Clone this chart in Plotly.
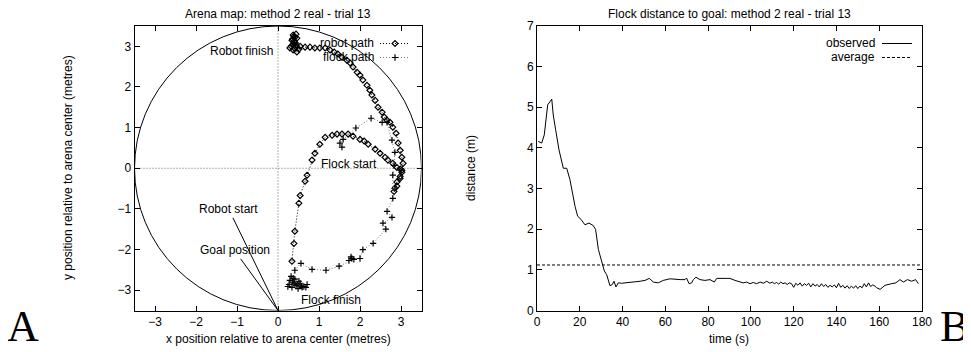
import plotly.graph_objects as go

# ---------------- data ----------------
ARENA_RADIUS = 3.5
AVERAGE_DISTANCE = 1.12

robot_x = [0.34, 0.39, 0.41, 0.51, 0.54, 0.66, 0.71, 0.83, 0.90, 1.02, 1.15, 1.32, 1.44, 1.56, 1.71,
           1.83, 2.00, 2.10, 2.20, 2.37, 2.49, 2.61, 2.68, 2.80, 2.90, 2.98, 3.02, 2.98, 2.90, 2.85,
           2.83, 2.90, 2.98, 3.02, 3.05, 3.02, 2.98, 2.93, 2.88, 2.80, 2.73, 2.66, 2.59, 2.54, 2.44,
           2.37, 2.29, 2.24, 2.17, 2.07, 2.00, 1.93, 1.83, 1.76, 1.68, 1.56, 1.46, 1.37, 1.27, 1.15,
           1.02, 0.90, 0.78, 0.66, 0.54, 0.44, 0.37, 0.34, 0.39, 0.44, 0.46, 0.41, 0.32, 0.29, 0.37,
           0.46, 0.51, 0.44, 0.39, 0.41, 0.37, 0.42, 0.36, 0.40]
robot_y = [-2.29, -1.85, -1.55, -0.86, -0.67, -0.32, -0.17, 0.20, 0.37, 0.59, 0.76, 0.81, 0.84, 0.84, 0.84,
           0.79, 0.71, 0.67, 0.59, 0.47, 0.37, 0.27, 0.20, 0.12, 0.02, -0.02, -0.10, -0.20, -0.34, -0.49,
           -0.57, -0.44, -0.25, -0.05, 0.12, 0.27, 0.44, 0.62, 0.86, 1.01, 1.13, 1.18, 1.26, 1.38, 1.50,
           1.67, 1.80, 1.92, 2.04, 2.17, 2.29, 2.36, 2.49, 2.59, 2.66, 2.73, 2.81, 2.86, 2.91, 2.96,
           2.96, 2.96, 2.98, 2.98, 3.00, 3.03, 3.05, 3.15, 3.25, 3.30, 3.20, 3.10, 3.00, 2.96, 2.91,
           2.86, 2.93, 2.98, 3.12, 3.22, 3.28, 3.08, 3.18, 2.95]

flock_x = [1.56, 1.51, 1.59, 1.90, 2.27, 2.54, 2.66, 2.78, 2.85, 2.83, 2.80, 2.80, 2.66, 2.78, 2.56,
           2.63, 2.32, 2.07, 2.00, 1.80, 1.73, 1.78, 1.85, 1.49, 1.17, 0.83, 0.56, 0.41, 0.37,
           0.29, 0.27, 0.34, 0.44, 0.54, 0.63, 0.71, 0.59, 0.49, 0.39, 0.32, 0.41, 0.51, 0.68, 0.24,
           0.36, 0.47, 0.57]
flock_y = [0.52, 0.62, 0.71, 0.99, 1.23, 1.13, 1.13, 0.69, 0.39, 0.07, -0.17, -0.74, -1.06, -1.21, -1.35,
           -1.50, -1.85, -2.00, -2.22, -2.22, -2.27, -2.18, -2.24, -2.41, -2.51, -2.49, -2.34, -2.51, -2.71,
           -2.76, -2.86, -2.93, -2.88, -2.83, -2.91, -2.86, -2.93, -2.96, -2.83, -2.66, -2.73, -2.78, -2.93, -2.91,
           -2.80, -2.85, -2.90]

time_s = [0.6, 2.2, 3.4, 5.0, 6.9, 7.6, 8.7, 10.3, 12.3, 13.9, 15.4, 16.5, 17.8, 19.0, 20.6, 22.4,
          24.3, 26.3, 27.4, 28.7, 30.2, 31.5, 32.6, 34.1, 35.2, 36.0, 36.9, 38.0, 39.5, 42.0, 45.8,
          48.2, 50.5, 52.5, 54.4, 56.7, 59.0, 62.2, 66.9, 69.2, 69.9, 71.1, 72.3, 73.1, 74.3, 76.2,
          78.5, 80.9, 82.9, 84.0, 88.7, 90.2, 92.6, 94.9, 96.4, 98.0, 99.6, 101.1, 102.7, 104.3,
          105.8, 107.4, 108.9, 110, 111, 112, 113, 114, 115, 116, 117, 118, 119, 120, 121, 122, 123,
          124, 125, 126, 127, 128, 129, 130, 131, 132, 133, 134, 135, 136, 137, 138, 139, 140, 141,
          142, 143, 144, 145, 146, 147, 148, 149, 150, 151, 152, 153, 154, 155, 156, 157, 158, 158.8,
          160.4, 162.7, 165.8, 167.8, 169.7, 171.3, 173.2, 175.2, 177.0, 178.3]
distance_m = [4.16, 4.12, 4.32, 5.06, 5.20, 4.81, 4.45, 3.95, 3.50, 3.50, 3.22, 2.89, 2.56, 2.32, 2.24, 2.11,
              2.15, 2.09, 1.99, 1.50, 1.19, 0.97, 0.88, 0.61, 0.64, 0.72, 0.58, 0.68, 0.67, 0.68, 0.70,
              0.72, 0.74, 0.79, 0.70, 0.68, 0.74, 0.78, 0.76, 0.76, 0.80, 0.66, 0.68, 0.76, 0.82, 0.76,
              0.74, 0.76, 0.70, 0.79, 0.79, 0.79, 0.74, 0.70, 0.68, 0.70, 0.66, 0.69, 0.66, 0.70,
              0.67, 0.72, 0.67, 0.70, 0.66, 0.69, 0.65, 0.70, 0.66, 0.68, 0.64, 0.68, 0.66, 0.57, 0.67, 0.62, 0.68,
              0.60, 0.66, 0.62, 0.67, 0.58, 0.66, 0.60, 0.64, 0.58, 0.66, 0.59, 0.64, 0.57, 0.62, 0.58, 0.63, 0.56, 0.67,
              0.57, 0.62, 0.55, 0.61, 0.54, 0.60, 0.55, 0.61, 0.54, 0.60, 0.56, 0.66, 0.58, 0.68, 0.59, 0.63, 0.60, 0.56,
              0.52, 0.62, 0.66, 0.68, 0.76, 0.70, 0.76, 0.72, 0.76, 0.66, 0.74]

MAP_TICKS = [-3, -2, -1, 0, 1, 2, 3]
TIME_TICKS = [0, 20, 40, 60, 80, 100, 120, 140, 160, 180]
DIST_TICKS = [0, 1, 2, 3, 4, 5, 6, 7]

# ---------------- figure ----------------
PAGE_OFFSET = 8          # default body margin of the html page
W, H = 971 - PAGE_OFFSET, 352 - PAGE_OFFSET
FONT = "Liberation Sans, Arial, sans-serif"

def px_x(p):
    return (p - PAGE_OFFSET) / W

def px_y(p):
    return (H - (p - PAGE_OFFSET)) / H

fig = go.Figure()

fig.add_trace(go.Scatter(
    x=robot_x, y=robot_y, mode="lines+markers", name="robot path",
    line=dict(color="black", width=1, dash="1px,2px"),
    marker=dict(symbol="diamond-open", size=4.5, color="black", line=dict(width=1.2, color="black")),
    xaxis="x", yaxis="y", legend="legend5"))
fig.add_trace(go.Scatter(
    x=flock_x, y=flock_y, mode="lines+markers", name="flock path",
    line=dict(color="#777777", width=1, dash="1px,2px"),
    marker=dict(symbol="cross-thin", size=4.5, color="black", line=dict(width=1.2, color="black")),
    xaxis="x", yaxis="y", legend="legend3"))

fig.add_trace(go.Scatter(
    x=time_s, y=distance_m, mode="lines", name="observed",
    line=dict(color="black", width=1),
    xaxis="x2", yaxis="y2", legend="legend2"))
fig.add_trace(go.Scatter(
    x=[0, 180], y=[AVERAGE_DISTANCE, AVERAGE_DISTANCE], mode="lines", name="average",
    line=dict(color="black", width=1, dash="3px,2px"),
    xaxis="x2", yaxis="y2", legend="legend4"))

axis_common = dict(showgrid=False, zeroline=False, showline=True, linecolor="black", linewidth=1,
                   mirror="allticks", ticks="inside", ticklen=5, tickcolor="black", automargin=False,
                   tickfont=dict(family=FONT, size=12, color="black"))

# gnuplot style key: text on the left, sample on the right -> one legend per entry,
# legend text hidden and drawn as a right-aligned annotation instead
def key(sample_left_px, row_center_px):
    return dict(x=px_x(sample_left_px - 5), y=px_y(row_center_px - 14), xanchor="left", yanchor="top",
                bgcolor="rgba(0,0,0,0)", font=dict(size=1, color="rgba(0,0,0,0)"), itemwidth=30)

ydom = [px_y(310.5), px_y(26)]
fig.update_layout(
    width=W, height=H,
    margin=dict(l=0, r=0, t=0, b=0),
    paper_bgcolor="white", plot_bgcolor="white",
    font=dict(family=FONT, size=12, color="black"),
    xaxis=dict(domain=[px_x(134.5), px_x(421.5)], range=[-ARENA_RADIUS, ARENA_RADIUS],
               tickvals=MAP_TICKS, anchor="y", **axis_common),
    yaxis=dict(domain=ydom, range=[-ARENA_RADIUS, ARENA_RADIUS],
               tickvals=MAP_TICKS, anchor="x", **axis_common),
    xaxis2=dict(domain=[px_x(537), px_x(922)], range=[0, 180], tickvals=TIME_TICKS,
                anchor="y2", **axis_common),
    yaxis2=dict(domain=ydom, range=[0, 7], tickvals=DIST_TICKS, anchor="x2", **axis_common),
    legend5=key(380, 43),
    legend3=key(380, 57),
    legend2=key(882, 43),
    legend4=key(882, 57),
)

# arena boundary and zero axes
fig.add_shape(type="circle", xref="x", yref="y",
              x0=-ARENA_RADIUS, y0=-ARENA_RADIUS, x1=ARENA_RADIUS, y1=ARENA_RADIUS,
              line=dict(color="black", width=1), layer="below")
fig.add_shape(type="line", xref="x", yref="y", x0=0, x1=0, y0=-ARENA_RADIUS, y1=ARENA_RADIUS,
              line=dict(color="#666666", width=1, dash="1px,2px"), layer="below")
fig.add_shape(type="line", xref="x", yref="y", x0=-ARENA_RADIUS, x1=ARENA_RADIUS, y0=0, y1=0,
              line=dict(color="#666666", width=1, dash="1px,2px"), layer="below")

ann = []
def text(x, y, s, xref="paper", yref="paper", **kw):
    d = dict(x=x, y=y, text=s, xref=xref, yref=yref, showarrow=False,
             xanchor="center", yanchor="middle",
             font=dict(family=FONT, size=12, color="black"))
    d.update(kw)
    ann.append(d)

text(px_x(278), px_y(14), "Arena map: method 2 real - trial 13")
text(px_x(729), px_y(14), "Flock distance to goal: method 2 real - trial 13")
text(px_x(278), px_y(339), "x position relative to arena center (metres)")
text(px_x(729), px_y(339), "time (s)")
text(px_x(68), px_y(168), "y position relative to arena center (metres)", textangle=-90)
text(px_x(471), px_y(168), "distance (m)", textangle=-90)
text(px_x(23), px_y(326), "A", font=dict(family="Liberation Serif, serif", size=44, color="black"))
text(px_x(954), px_y(326), "B", font=dict(family="Liberation Serif, serif", size=44, color="black"))

# key labels
text(px_x(376), px_y(43), "robot path", xanchor="right")
text(px_x(376), px_y(57), "flock path", xanchor="right")
text(px_x(877), px_y(43), "observed", xanchor="right")
text(px_x(877), px_y(57), "average", xanchor="right")

# map labels
text(-0.07, 2.88, "Robot finish", xref="x", yref="y", xanchor="right")
text(1.0, 0.10, "Flock start", xref="x", yref="y", xanchor="left")
text(0.51, -3.23, "Flock finish", xref="x", yref="y", xanchor="left")
for label, lx, ly in [("Robot start", -1.2, -1.01), ("Goal position", -1.06, -2.02)]:
    ann.append(dict(x=0, y=-ARENA_RADIUS, xref="x", yref="y", ax=lx, ay=ly, axref="x", ayref="y",
                    text=label, showarrow=True, arrowhead=0, arrowwidth=1, arrowcolor="black",
                    font=dict(family=FONT, size=12, color="black")))

fig.update_layout(annotations=ann)

fig.write_html("out.html")
